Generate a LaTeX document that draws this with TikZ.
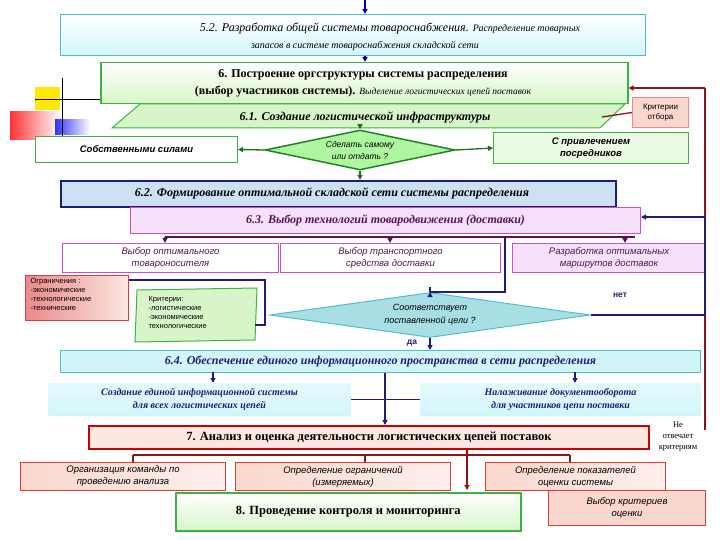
\documentclass[tikz,border=0pt]{standalone}
\usepackage{fontspec}
\setmainfont{Liberation Serif}
\newfontfamily\sfx{Liberation Sans}
\usetikzlibrary{shapes.geometric,arrows.meta}
\definecolor{dkblue}{RGB}{30,30,120}
\definecolor{dkred}{RGB}{140,20,20}
\definecolor{grn}{RGB}{60,180,60}
\definecolor{lgrn}{RGB}{215,245,200}
\definecolor{lcyan}{RGB}{210,245,250}
\definecolor{teal}{RGB}{80,190,200}
\definecolor{lpink}{RGB}{250,215,205}
\definecolor{redb}{RGB}{220,60,60}
\definecolor{mag}{RGB}{200,80,200}
\definecolor{lmag}{RGB}{245,225,250}
\definecolor{purp}{RGB}{90,20,80}
\definecolor{lblue}{RGB}{205,225,245}
\tikzset{
 bx/.style={draw,line width=1pt,inner sep=0pt},
 ar/.style={-{Triangle[length=5pt,width=5pt]},line width=1.3pt},
 ln/.style={line width=1.3pt},
 ts/.style={font=\sfx\itshape\fontsize{9.5}{12}\selectfont,align=center},
 th/.style={font=\bfseries\fontsize{12}{14}\selectfont,align=center},
}
\begin{document}
\begin{tikzpicture}[x=1pt,y=-1pt]
\useasboundingbox (0,0) rectangle (720,540);
% decoration
\fill[yellow!90!orange] (35,87) rectangle (60,110);
\shade[left color=red!80,right color=white] (10,112) rectangle (60,140);
\shade[left color=blue!80,right color=white] (55,120) rectangle (90,135);
\draw[line width=1pt] (62,78) -- (62,140);
\draw[line width=1pt] (35,100) -- (140,100);
% top
\node[bx,draw=teal,top color=white,bottom color=lcyan,minimum width=585pt,minimum height=41pt,anchor=north west] (b52) at (60,14) {};
\node[font=\itshape\fontsize{12}{14}\selectfont] (t52a) at (390,28) {5.2. Разработка общей системы товароснабжения. {\fontsize{10}{12}\selectfont Распределение товарных}};
\node[font=\itshape\fontsize{10}{12}\selectfont] (t52b) at (365,46) {запасов в системе товароснабжения складской сети};
\coordinate (top) at (365,0);
\draw[ar,blue!70!black] (top) -- (b52.north -| top);
\node[bx,draw=grn,line width=1.5pt,top color=white,bottom color=lgrn,minimum width=527pt,minimum height=41pt,anchor=north west] (b6) at (100,62) {};
\draw[ar,blue!70!black] (b52.south -| top) -- (b6.north -| top);
\node[th] at (363,75) {6. Построение оргструктуры системы распределения};
\node[th] at (363,92) {(выбор участников системы). {\mdseries\itshape\fontsize{9.5}{11}\selectfont Выделение логистических цепей поставок}};
\draw[grn,line width=1pt,fill=lgrn] (140,104) -- (625,104) -- (600,128) -- (112,128) -- cycle;
\node[th,font=\bfseries\itshape\fontsize{12}{14}\selectfont] (p61) at (365,117) {6.1. Создание логистической инфраструктуры};
\coordinate (p61b) at (360,128);
\node[bx,draw=redb!60,fill=lpink,minimum width=56pt,minimum height=30pt,anchor=north west,font=\sfx\fontsize{8}{9.5}\selectfont,align=center] (krit) at (632,97) {Критерии\\отбора};
\coordinate (p61r) at (602,117);
\draw[ln,dkred] (krit.west) -- (p61r);
\coordinate (r1) at (705,88);
\coordinate (r2) at (705,430);
\draw[ln,dkred] (r2) -- (r1);
\draw[ar,dkred] (r1) -- (b6.east |- r1);
\node[bx,draw=grn,fill=white,minimum width=202pt,minimum height=26pt,anchor=north west,font=\sfx\bfseries\itshape\fontsize{9.5}{11}\selectfont] (own) at (35,136) {Собственными силами};
\node[bx,draw=grn,fill=lgrn!50,minimum width=195pt,minimum height=31pt,anchor=north west,font=\sfx\bfseries\itshape\fontsize{9.5}{12}\selectfont,align=center] (posr) at (493,132) {С привлечением\\посредников};
\node[diamond,draw=grn!70!black,line width=1.5pt,fill=lgrn!80!green,minimum width=190pt,minimum height=40pt,inner sep=0pt,aspect=4.5,ts,font=\sfx\itshape\fontsize{8.5}{12}\selectfont] (d1) at (360,150) {Сделать самому\\или отдать ?};
\draw[ar,grn!60!black] (p61b) -- (d1.north);
\draw[ar,grn!60!black] (d1.west) -- (own.east);
\draw[ar,grn!60!black] (d1.east) -- (posr.west);
% 6.2
\node[bx,draw=dkblue,line width=2pt,fill=lblue,minimum width=555pt,minimum height=26pt,anchor=north west] (b62) at (60,180) {};
\node[th,font=\bfseries\itshape\fontsize{12}{14}\selectfont] at (332,193) {6.2. Формирование оптимальной складской сети системы распределения};
\draw[ar,grn!60!black] (d1.south) -- (b62.north -| d1.south);
\node[bx,draw=mag,fill=lmag,minimum width=510pt,minimum height=26pt,anchor=north west,font=\bfseries\itshape\fontsize{12}{14}\selectfont,text=purp] (b63) at (130,207) {6.3. Выбор технологий товародвижения (доставки)};
\node[bx,draw=mag,fill=white,minimum width=216pt,minimum height=29pt,anchor=north west,ts,text=purp] (c1) at (62,243) {Выбор оптимального\\товароносителя};
\node[bx,draw=mag,fill=white,minimum width=220pt,minimum height=29pt,anchor=north west,ts,text=purp] (c2) at (280,243) {Выбор транспортного\\средства доставки};
\node[bx,draw=mag,fill=lmag,minimum width=193pt,minimum height=29pt,anchor=north west,ts,text=purp] (c3) at (512,243) {Разработка оптимальных\\маршрутов доставок};
\coordinate (h1) at (165,237); \coordinate (h2) at (635,237);
\draw[ln,purp] (h1) -- (h2);
\draw[ar,purp] (h1) -- (c1.north -| h1);
\draw[ar,purp] (390,237) -- (c2.north -| 390,0);
\draw[ar,purp] (625,237) -- (c3.north -| 625,0);
\node[bx,draw=redb,left color=redb!60,right color=lpink!60,minimum width=103pt,minimum height=45pt,anchor=north west] (ogr) at (25,275) {};
\node[font=\sfx\fontsize{7.5}{9}\selectfont,align=left,anchor=north west] at (27,275) {Ограничения :\\ -экономические\\ -технологические\\ -технические};
\draw[grn,line width=1pt,fill=lgrn] (137,290) -- (257,288) -- (255,340) -- (135,342) -- cycle;
\node[font=\sfx\fontsize{7.5}{9}\selectfont,align=left,anchor=north west] (kr2) at (145,293) {Критерии:\\-логистические\\-экономические\\технологические};
\node[diamond,draw=teal,line width=1pt,fill=teal!50,minimum width=320pt,minimum height=45pt,inner sep=0pt,aspect=7,ts,font=\sfx\itshape\fontsize{9}{13}\selectfont] (d2) at (430,315) {Соответствует\\поставленной цели ?};
\coordinate (q1) at (505,237); \coordinate (q2) at (505,292); \coordinate (q3) at (430,292);
\draw[ln,dkblue] (q1) -- (q2) -- (q3);
\draw[ar,dkblue] (q3) -- (d2.north);
\coordinate (g1) at (265,280); \coordinate (g2) at (265,325);
\draw[ln,dkblue] (ogr.east |- g1) -- (g1) -- (g2) -- (255,325);
\coordinate (n1) at (705,315); \coordinate (n2) at (705,217);
\draw[ln,dkblue] (d2.east) -- (n1) -- (n2);
\draw[ar,dkblue] (n2) -- (b63.east |- n2);
\node[font=\sfx\bfseries\fontsize{8.5}{10}\selectfont,text=dkblue] at (620,295) {нет};
\node[font=\sfx\bfseries\fontsize{8.5}{10}\selectfont,text=dkblue] at (412,343) {да};
% 6.4
\node[bx,draw=teal,fill=lcyan,minimum width=640pt,minimum height=22pt,anchor=north west,font=\bfseries\itshape\fontsize{12}{14}\selectfont,text=dkblue] (b64) at (60,350) {6.4. Обеспечение единого информационного пространства в сети распределения};
\draw[ar,dkblue] (d2.south) -- (b64.north -| d2.south);
\node[bx,draw=none,top color=lcyan!60!white,bottom color=lcyan,minimum width=302pt,minimum height=32pt,anchor=north west,font=\bfseries\itshape\fontsize{10}{13}\selectfont,align=center,text=dkblue] (i1) at (48,383) {Создание единой информационной системы\\для всех логистических цепей};
\node[bx,draw=none,top color=lcyan!60!white,bottom color=lcyan,minimum width=280pt,minimum height=32pt,anchor=north west,font=\bfseries\itshape\fontsize{10}{13}\selectfont,align=center,text=dkblue] (i2) at (420,383) {Налаживание документооборота\\для участников цепи поставки};
\draw[ar,dkblue] (213,372) -- (i1.north -| 213,0);
\draw[ar,dkblue] (575,372) -- (i2.north -| 575,0);
\draw[ln,dkblue] (i1.east) -- (i2.west);
\node[bx,draw=red!80!black,line width=2pt,fill=lpink!60,minimum width=560pt,minimum height=23pt,anchor=north west,font=\bfseries\fontsize{12.5}{14}\selectfont] (b7) at (88,425) {7. Анализ и оценка деятельности логистических цепей поставок};
\draw[ar,dkblue] (b64.south -| 385,0) -- (b7.north -| 385,0);
\node[font=\fontsize{8.5}{11}\selectfont,align=center] (ne) at (678,437) {Не\\отвечает\\критериям};
% bottom
\node[bx,draw=redb,left color=lpink,right color=lpink!40,minimum width=205pt,minimum height=28pt,anchor=north west,ts] (e1) at (20,462) {Организация команды по\\проведению анализа};
\node[bx,draw=redb,left color=lpink,right color=lpink!40,minimum width=215pt,minimum height=28pt,anchor=north west,ts] (e2) at (235,462) {Определение ограничений\\(измеряемых)};
\node[bx,draw=redb,left color=lpink,right color=lpink!40,minimum width=180pt,minimum height=28pt,anchor=north west,ts] (e3) at (485,462) {Определение показателей\\оценки системы};
\node[bx,draw=redb,fill=lpink,minimum width=157pt,minimum height=35pt,anchor=north west,ts] (e4) at (548,490) {Выбор критериев\\оценки};
\node[bx,draw=grn,line width=1.5pt,top color=white,bottom color=lgrn,minimum width=345pt,minimum height=38pt,anchor=north west,font=\bfseries\fontsize{12.5}{14}\selectfont] (b8) at (175,492) {8. Проведение контроля и мониторинга};
\coordinate (k1) at (133,455); \coordinate (k2) at (570,455);
\draw[ln,dkred] (k1) -- (k2);
\draw[ln,dkred] (k1) -- (e1.north -| k1);
\draw[ln,dkred] (365,455) -- (e2.north -| 365,0);
\draw[ln,dkred] (k2) -- (e3.north -| k2);
\draw[ar,dkred] (b7.south -| 467,0) -- (467,490);
\end{tikzpicture}
\end{document}
